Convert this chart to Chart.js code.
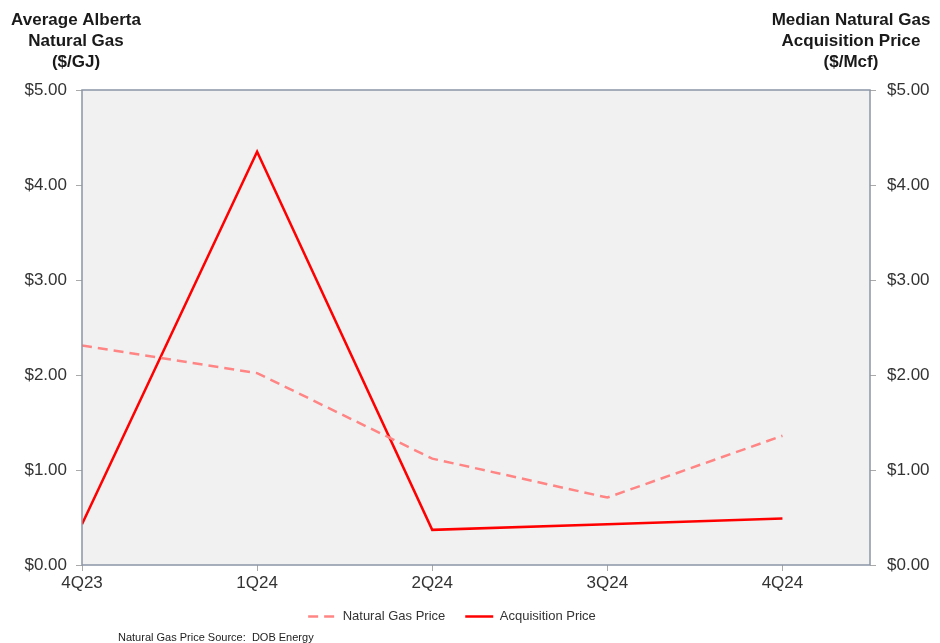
<!DOCTYPE html>
<html>
<head>
<meta charset="utf-8">
<script src="https://cdn.jsdelivr.net/npm/chart.js@4.4.1/dist/chart.umd.min.js"></script>
<style>
  html, body { margin: 0; padding: 0; background: #fff; }
  #wrap { width: 940px; height: 643px; }
</style>
</head>
<body>
<div id="wrap"><canvas id="myChart" width="940" height="643"></canvas></div>
<script>
    // quarters along the bottom axis
    const quarters = ['4Q23', '1Q24', '2Q24', '3Q24', '4Q24'];
    // average Alberta natural gas, $/GJ (left axis)
    const gasPrice = [2.31, 2.02, 1.12, 0.71, 1.36];
    // median acquisition price, $/Mcf (right axis)
    const acquisitionPrice = [0.43, 4.35, 0.37, 0.43, 0.49];
    const priceTicks = [0, 1, 2, 3, 4, 5];

    const FONT = '"Liberation Sans", Arial, sans-serif';
    const AXIS_COLOR = '#8b95a7';

    const toPoints = arr => arr.map((v, i) => ({ x: i, y: v }));

    // gray plot background, frame, header titles and the source note
    const decorations = {
        id: 'decorations',
        afterLayout(chart) {
            // nudge the legend a little left and up, under the plot
            const lg = chart.legend;
            if (lg) {
                lg.left -= 18; lg.right -= 18;
                lg.top -= 3; lg.bottom -= 3;
            }
        },
        beforeDraw(chart) {
            const { ctx, chartArea: a } = chart;
            ctx.save();
            ctx.fillStyle = '#f1f1f1';
            ctx.fillRect(a.left, a.top, a.right - a.left, a.bottom - a.top);
            ctx.restore();
        },
        afterDatasetsDraw(chart) {
            const { ctx, chartArea: a } = chart;
            ctx.save();
            ctx.strokeStyle = AXIS_COLOR;
            ctx.lineWidth = 1.5;
            ctx.strokeRect(a.left, a.top, a.right - a.left, a.bottom - a.top);
            ctx.restore();
        },
        afterDraw(chart) {
            const ctx = chart.ctx;
            ctx.save();
            ctx.fillStyle = '#1a1a1a';
            ctx.font = 'bold 17px ' + FONT;
            ctx.textAlign = 'center';
            ctx.textBaseline = 'middle';
            ['Average Alberta', 'Natural Gas', '($/GJ)'].forEach((t, i) => ctx.fillText(t, 76, 20 + i * 21));
            ['Median Natural Gas', 'Acquisition Price', '($/Mcf)'].forEach((t, i) => ctx.fillText(t, 851, 20 + i * 21));
            ctx.font = '11px ' + FONT;
            ctx.textAlign = 'left';
            ctx.fillStyle = '#222';
            ctx.fillText('Natural Gas Price Source:  DOB Energy', 118, 638);
            ctx.restore();
        }
    };

    const yTicks = {
        stepSize: 1,
        color: '#333',
        font: { family: FONT, size: 17 },
        callback: v => '$' + Number(v).toFixed(2)
    };

    const ctx = document.getElementById('myChart').getContext('2d');
    new Chart(ctx, {
        type: 'line',
        data: {
            datasets: [
                {
                    label: 'Natural Gas Price',
                    data: toPoints(gasPrice),
                    yAxisID: 'y',
                    borderColor: '#ff8585',
                    backgroundColor: '#ff8585',
                    borderWidth: 2.5,
                    borderDash: [10, 6],
                    pointRadius: 0,
                    tension: 0,
                    fill: false
                },
                {
                    label: 'Acquisition Price',
                    data: toPoints(acquisitionPrice),
                    yAxisID: 'y2',
                    borderColor: '#ff0000',
                    backgroundColor: '#ff0000',
                    borderWidth: 2.5,
                    pointRadius: 0,
                    tension: 0,
                    fill: false
                }
            ]
        },
        options: {
            responsive: false,
            animation: false,
            layout: { padding: { top: 90, left: 0, right: 0, bottom: 7 } },
            plugins: {
                tooltip: { enabled: false },
                legend: {
                    position: 'bottom',
                    labels: {
                        usePointStyle: true,
                        pointStyle: 'line',
                        pointStyleWidth: 28,
                        padding: 20,
                        color: '#333',
                        font: { family: FONT, size: 13 },
                        // point style drops the dash, so copy it back from the dataset
                        generateLabels: chart => Chart.defaults.plugins.legend.labels.generateLabels(chart)
                            .map(item => Object.assign(item, {
                                lineDash: chart.data.datasets[item.datasetIndex].borderDash || [],
                                lineWidth: 2.5
                            }))
                    }
                }
            },
            scales: {
                x: {
                    type: 'linear',
                    min: 0,
                    max: 4.5,
                    afterBuildTicks: axis => { axis.ticks = quarters.map((q, i) => ({ value: i })); },
                    afterFit: axis => { axis.height = 28; },
                    border: { display: false },
                    grid: { drawOnChartArea: false, tickLength: 6, color: '#aaa' },
                    ticks: {
                        padding: 2,
                        maxRotation: 0,
                        color: '#333',
                        font: { family: FONT, size: 17 },
                        callback: v => quarters[v] ?? ''
                    }
                },
                y: {
                    position: 'left',
                    min: 0,
                    max: 5,
                    afterBuildTicks: axis => { axis.ticks = priceTicks.map(v => ({ value: v })); },
                    afterFit: axis => { axis.width = 82; },
                    border: { display: false },
                    grid: { drawOnChartArea: false, tickLength: 6, color: '#aaa' },
                    ticks: Object.assign({ padding: 9 }, yTicks)
                },
                y2: {
                    position: 'right',
                    min: 0,
                    max: 5,
                    afterBuildTicks: axis => { axis.ticks = priceTicks.map(v => ({ value: v })); },
                    afterFit: axis => { axis.width = 70; },
                    border: { display: false },
                    grid: { drawOnChartArea: false, tickLength: 6, color: '#aaa' },
                    ticks: Object.assign({ padding: 11 }, yTicks)
                }
            }
        },
        plugins: [decorations]
    });
</script>
</body>
</html>
